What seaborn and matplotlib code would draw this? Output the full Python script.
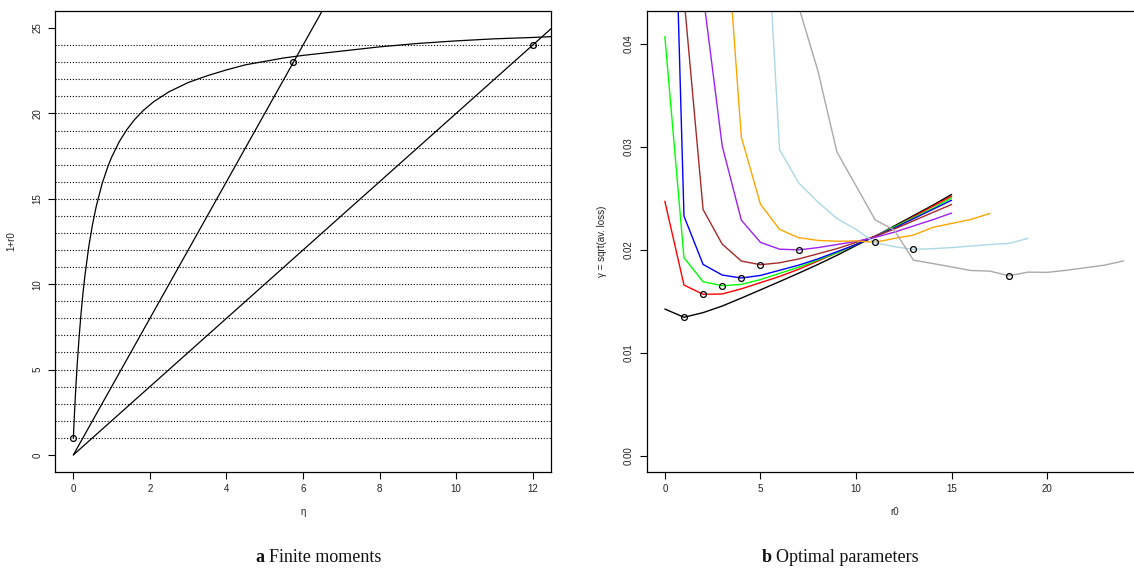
import numpy as np
import pandas as pd
import matplotlib
matplotlib.use("Agg")
import matplotlib.pyplot as plt
import seaborn as sns

# ---------------- Panel a: Finite moments ----------------
eta_curve = [0, 0.01, 0.025, 0.05, 0.075, 0.1, 0.15, 0.2, 0.25, 0.3, 0.4, 0.5, 0.6,
             0.75, 0.9, 1.0, 1.2, 1.4, 1.6, 1.83, 2.1, 2.5, 3.0, 3.5, 4.0, 4.5, 5.0,
             5.5, 6.0, 7.0, 8.0, 9.0, 10.0, 11.0, 12.0, 12.5]
r_curve = [1, 1.51, 2.24, 3.35, 4.36, 5.29, 6.90, 8.27, 9.45, 10.47, 12.16, 13.5, 14.58,
           15.88, 16.88, 17.44, 18.35, 19.06, 19.64, 20.18, 20.69, 21.27, 21.81, 22.21,
           22.55, 22.85, 23.05, 23.25, 23.4, 23.65, 23.9, 24.1, 24.25, 24.37, 24.45, 24.5]
line_slopes = [4, 2]
hline_levels = list(range(1, 25))
pt_eta = [0, 5.75, 12]
pt_r = [1, 23, 24]
xticks_a = [0, 2, 4, 6, 8, 10, 12]
yticks_a = [0, 5, 10, 15, 20, 25]

# ---------------- Panel b: Optimal parameters ----------------
r0_black = list(range(0, 16))
g_black = [0.01424, 0.01344, 0.01389, 0.01453, 0.01530, 0.01610, 0.01690, 0.01772,
           0.01856, 0.01945, 0.02040, 0.02130, 0.02230, 0.02330, 0.02430, 0.02536]
r0_red = list(range(0, 16))
g_red = [0.02470, 0.01657, 0.01567, 0.01570, 0.01620, 0.01680, 0.01740, 0.01810,
         0.01890, 0.01970, 0.02050, 0.02130, 0.02220, 0.02320, 0.02420, 0.02519]
r0_green = list(range(0, 16))
g_green = [0.04070, 0.01922, 0.01689, 0.01650, 0.01663, 0.01710, 0.01770, 0.01830,
           0.01900, 0.01970, 0.02050, 0.02130, 0.02220, 0.02310, 0.02400, 0.02503]
r0_blue = list(range(0, 16))
g_blue = [0.08930, 0.02326, 0.01857, 0.01754, 0.01725, 0.01750, 0.01800, 0.01850,
          0.01910, 0.01980, 0.02050, 0.02130, 0.02210, 0.02300, 0.02390, 0.02480]
r0_brown = list(range(1, 16))
g_brown = [0.04450, 0.02390, 0.02054, 0.01890, 0.01854, 0.01873, 0.01910, 0.01960,
           0.02010, 0.02070, 0.02130, 0.02200, 0.02280, 0.02360, 0.02439]
r0_purple = list(range(2, 16))
g_purple = [0.04480, 0.03007, 0.02287, 0.02071, 0.02005, 0.01998, 0.02020, 0.02050,
            0.02080, 0.02120, 0.02170, 0.02230, 0.02290, 0.02355]
r0_orange = list(range(3, 18))
g_orange = [0.05650, 0.03094, 0.02442, 0.02197, 0.02117, 0.02090, 0.02082, 0.02085,
            0.02072, 0.02110, 0.02141, 0.02216, 0.02255, 0.02293, 0.02352]
r0_lightblue = list(range(5, 20))
g_lightblue = [0.06300, 0.02972, 0.02648, 0.02464, 0.02303, 0.02197, 0.02067, 0.02030,
               0.02003, 0.02010, 0.02020, 0.02035, 0.02050, 0.02061, 0.02110]
r0_gray = list(range(7, 25))
g_gray = [0.04360, 0.03740, 0.02949, 0.02620, 0.02290, 0.02190, 0.01899, 0.01866,
          0.01833, 0.01798, 0.01792, 0.01747, 0.01782, 0.01780, 0.01800, 0.01825,
          0.01850, 0.01891]

series_names = ["black", "red", "green", "blue", "brown", "purple", "orange", "lightblue", "gray"]
series_colors = ["#000000", "#FF0000", "#00FF00", "#0000FF", "#A52A2A", "#A020F0",
                 "#FFA500", "#ADD8E6", "#A9A9A9"]
series_x = [r0_black, r0_red, r0_green, r0_blue, r0_brown, r0_purple, r0_orange, r0_lightblue, r0_gray]
series_y = [g_black, g_red, g_green, g_blue, g_brown, g_purple, g_orange, g_lightblue, g_gray]
xticks_b = [0, 5, 10, 15, 20]
yticks_b = [0.00, 0.01, 0.02, 0.03, 0.04]
ytick_labels_b = ["0.00", "0.01", "0.02", "0.03", "0.04"]

# ---------------- Figure ----------------
sns.set_theme(style="white")
plt.rcParams["font.family"] = ["Liberation Sans", "DejaVu Sans"]
TXT = "#222222"

fig = plt.figure(figsize=(11.34, 5.71), dpi=100)
W, H = 1134, 571
axa = fig.add_axes([55 / W, (H - 472) / H, 496 / W, 461 / H])
axb = fig.add_axes([646.5 / W, (H - 472) / H, 495.5 / W, 461 / H])

XLIM_A = (-0.48, 12.48)
YLIM_A = (-1, 26)

def style_axes(ax):
    for s in ax.spines.values():
        s.set_visible(True)
        s.set_color("black")
        s.set_linewidth(0.9)
    ax.tick_params(axis="both", which="major", direction="out", length=5, width=0.8,
                   color="black", labelsize=7, labelcolor=TXT, pad=4,
                   bottom=True, left=True, top=False, right=False)
    for lab in ax.get_yticklabels():
        lab.set_rotation(90)
        lab.set_va("center")
    ax.grid(False)
    ax.set_facecolor("white")

# Panel a
for lv in hline_levels:
    axa.axhline(lv, color="black", linewidth=0.8, linestyle=(0, (1, 1.6)), zorder=1)
for sl in line_slopes:
    # ray from the origin, running out past the top of the plot
    x_end = YLIM_A[1] / sl
    axa.plot([0, x_end], [0, sl * x_end], color="black", linewidth=0.9, zorder=2)
sns.lineplot(x=eta_curve, y=r_curve, ax=axa, color="black", linewidth=0.9, sort=False,
             estimator=None, zorder=2)
axa.plot(pt_eta, pt_r, linestyle="none", marker="o", markersize=4.2,
         markerfacecolor="none", markeredgecolor="black", markeredgewidth=0.9, zorder=3)
axa.set_xlim(*XLIM_A)
axa.set_ylim(*YLIM_A)
axa.set_xticks(xticks_a)
axa.set_yticks(yticks_a)
axa.set_xticklabels([str(v) for v in xticks_a])
axa.set_yticklabels([str(v) for v in yticks_a])
axa.set_xlabel("η", fontsize=7, color=TXT, labelpad=9)
axa.set_ylabel("1+r0", fontsize=7, color=TXT, labelpad=12)
style_axes(axa)

# Panel b
rows = []
for name, xs, ys in zip(series_names, series_x, series_y):
    for xv, yv in zip(xs, ys):
        rows.append({"series": name, "r0": xv, "gamma": yv})
df = pd.DataFrame(rows)
palette = dict(zip(series_names, series_colors))
sns.lineplot(data=df, x="r0", y="gamma", hue="series", hue_order=series_names,
             palette=palette, ax=axb, linewidth=1.0, sort=False, estimator=None,
             legend=False)
mins = df.loc[df.groupby("series", sort=False)["gamma"].idxmin()]
axb.plot(mins["r0"], mins["gamma"], linestyle="none", marker="o", markersize=4.2,
         markerfacecolor="none", markeredgecolor="black", markeredgewidth=0.9, zorder=5)
axb.set_xlim(-0.96, 24.96)
axb.set_ylim(-0.00158, 0.04317)
axb.set_xticks(xticks_b)
axb.set_yticks(yticks_b)
axb.set_xticklabels([str(v) for v in xticks_b])
axb.set_yticklabels(ytick_labels_b)
axb.set_xlabel("r0", fontsize=7, color=TXT, labelpad=9)
axb.set_ylabel("γ = sqrt(av. loss)", fontsize=7, color=TXT, labelpad=12)
style_axes(axb)

# Captions
cap_font = ["Liberation Serif", "DejaVu Serif"]
cap_size = 13
fig.text(264 / W, 1 - 557 / H, "a", ha="right", va="center", fontsize=cap_size,
         fontweight="bold", family=cap_font, color="#111111")
fig.text(269 / W, 1 - 557 / H, "Finite moments", ha="left", va="center", fontsize=cap_size,
         family=cap_font, color="#111111")
fig.text(772 / W, 1 - 557 / H, "b", ha="right", va="center", fontsize=cap_size,
         fontweight="bold", family=cap_font, color="#111111")
fig.text(776 / W, 1 - 557 / H, "Optimal parameters", ha="left", va="center", fontsize=cap_size,
         family=cap_font, color="#111111")

fig.savefig("out.png", dpi=100)
